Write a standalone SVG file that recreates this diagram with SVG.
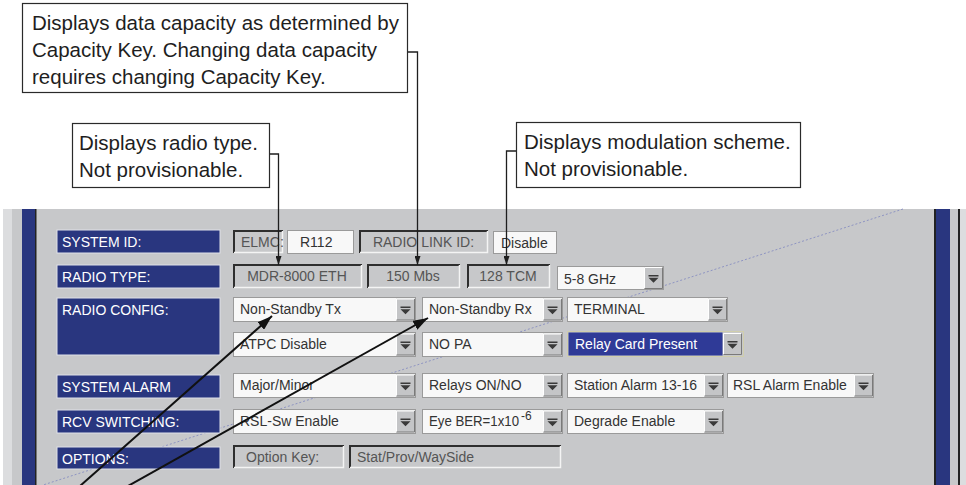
<svg xmlns="http://www.w3.org/2000/svg" xmlns:xlink="http://www.w3.org/1999/xlink" width="966" height="485" viewBox="0 0 966 485">
  <style>
    .note { fill: #fff; stroke: #2a2a2a; stroke-width: 1.2; }
    .nt { font-family: "Liberation Sans", Arial, sans-serif; font-size: 20.5px; fill: #1e1e1e; }
    .lbl { fill: #29367f; stroke: #dfe0e8; stroke-width: 1; }
    .lt { font-family: "Liberation Sans", Arial, sans-serif; font-size: 14px; fill: #ffffff; }
    .fld { fill: #f8f8f8; stroke: #9a9a9a; stroke-width: 1; }
    .wt { font-family: "Liberation Sans", Arial, sans-serif; font-size: 14px; fill: #333333; }
    .st { font-family: "Liberation Sans", Arial, sans-serif; font-size: 14px; fill: #555555; }
    .sunk { fill: #c7c8ca; }
    .sk-d { fill: none; stroke: #2e2e2e; stroke-width: 2; }
    .sk-l { fill: none; stroke: #f4f4f4; stroke-width: 1.5; }
    .lead { fill: none; stroke: #1e1e1e; stroke-width: 1.3; }
    .big { fill: none; stroke: #111; stroke-width: 2; }
  </style>
  <defs>
    <g id="btn">
      <rect x="0" y="0" width="19" height="22" fill="#c4c5c7"/>
      <path d="M0.5 21.5V0.5H18.5" fill="none" stroke="#ffffff"/>
      <path d="M0.5 21.5H18.5V0.5" fill="none" stroke="#7a7a7a"/>
      <path d="M4.5 8h10v1.6h-10z M4.5 10.8h10l-5 5z" fill="#3a3a3a"/>
    </g>
    <marker id="ah" viewBox="0 0 9 6" refX="9" refY="3" markerWidth="9" markerHeight="6" markerUnits="userSpaceOnUse" orient="auto">
      <path d="M0,0 L9,3 L0,6 z" fill="#1e1e1e"/>
    </marker>
    <marker id="ahb" viewBox="0 0 15 10" refX="15" refY="5" markerWidth="15" markerHeight="10" markerUnits="userSpaceOnUse" orient="auto">
      <path d="M0,0 L15,5 L0,10 z" fill="#111"/>
    </marker>
  </defs>

  <rect width="966" height="485" fill="#ffffff"/>

  <!-- window frame -->
  <g id="frame">
    <rect x="3" y="209" width="9" height="276" fill="#dcdddf"/>
    <rect x="12" y="209" width="947" height="276" fill="#c7c8ca"/>
    <rect x="22" y="209" width="13" height="276" fill="#29367f"/>
    <rect x="35" y="209" width="1.5" height="276" fill="#222"/>
    <rect x="934" y="209" width="2" height="276" fill="#222"/>
    <rect x="936" y="209" width="14" height="276" fill="#29367f"/>
    <rect x="958" y="209" width="2" height="276" fill="#222"/>
    <rect x="960" y="209" width="6" height="276" fill="#dcdddf"/>
    <line x1="903" y1="209" x2="43" y2="485" stroke="#8e94c2" stroke-width="1" stroke-dasharray="2 2"/>
  </g>

  <!-- row labels -->
  <g id="lbl-system-id"><rect class="lbl" x="57" y="230" width="163" height="23"/><text class="lt" x="62" y="247">SYSTEM ID:</text></g>
  <g id="lbl-radio-type"><rect class="lbl" x="57" y="265" width="163" height="23"/><text class="lt" x="62" y="282">RADIO TYPE:</text></g>
  <g id="lbl-radio-config"><rect class="lbl" x="57" y="298" width="163" height="57"/><text class="lt" x="62" y="315">RADIO CONFIG:</text></g>
  <g id="lbl-system-alarm"><rect class="lbl" x="57" y="375" width="163" height="23"/><text class="lt" x="62" y="392">SYSTEM ALARM</text></g>
  <g id="lbl-rcv-switching"><rect class="lbl" x="57" y="410" width="163" height="23"/><text class="lt" x="62" y="427">RCV SWITCHING:</text></g>
  <g id="lbl-options"><rect class="lbl" x="57" y="447" width="163" height="22"/><text class="lt" x="62" y="464">OPTIONS:</text></g>

  <!-- row 1 -->
  <g id="f-elmc">
    <rect class="sunk" x="233" y="230" width="50" height="23"/>
    <path class="sk-d" d="M234 253V231H283"/><path class="sk-l" d="M234 252.5H282.5V231"/>
    <text class="st" x="241" y="247">ELMC:</text>
  </g>
  <g id="f-r112"><rect class="fld" x="287.5" y="230.5" width="66" height="23"/><text class="wt" x="300" y="247">R112</text></g>
  <g id="f-link-id">
    <rect class="sunk" x="359" y="230" width="129" height="23"/>
    <path class="sk-d" d="M360 253V231H488"/><path class="sk-l" d="M360 252.5H487.5V231"/>
    <text class="st" x="423.5" y="247" text-anchor="middle">RADIO LINK ID:</text>
  </g>
  <g id="f-disable"><rect class="fld" x="493.5" y="231.5" width="63" height="22"/><text class="wt" x="501" y="248">Disable</text></g>

  <!-- row 2 -->
  <g id="f-radio">
    <rect class="sunk" x="233" y="264" width="129" height="24"/>
    <path class="sk-d" d="M234 288V265H362"/><path class="sk-l" d="M234 287.5H361.5V265"/>
    <text class="st" x="297" y="281" text-anchor="middle">MDR-8000 ETH</text>
  </g>
  <g id="f-rate">
    <rect class="sunk" x="367" y="264" width="93" height="24"/>
    <path class="sk-d" d="M368 288V265H460"/><path class="sk-l" d="M368 287.5H459.5V265"/>
    <text class="st" x="413" y="281" text-anchor="middle">150 Mbs</text>
  </g>
  <g id="f-mod">
    <rect class="sunk" x="467" y="264" width="83" height="24"/>
    <path class="sk-d" d="M468 288V265H550"/><path class="sk-l" d="M468 287.5H549.5V265"/>
    <text class="st" x="508" y="281" text-anchor="middle">128 TCM</text>
  </g>
  <g id="dd-band"><rect class="fld" x="557.5" y="266.5" width="106" height="23"/><text class="wt" x="564" y="284">5-8 GHz</text><use xlink:href="#btn" x="644" y="267"/></g>

  <!-- row 3 -->
  <g id="dd-tx"><rect class="fld" x="233.5" y="297.5" width="182" height="24"/><text class="wt" x="240" y="314">Non-Standby Tx</text><use xlink:href="#btn" x="396" y="298.5"/></g>
  <g id="dd-rx"><rect class="fld" x="422.5" y="297.5" width="140" height="24"/><text class="wt" x="429" y="314">Non-Standby Rx</text><use xlink:href="#btn" x="543" y="298.5"/></g>
  <g id="dd-terminal"><rect class="fld" x="567.5" y="297.5" width="160" height="24"/><text class="wt" x="574" y="314">TERMINAL</text><use xlink:href="#btn" x="708" y="298.5"/></g>

  <!-- row 4 -->
  <g id="dd-atpc"><rect class="fld" x="233.5" y="332.5" width="182" height="24"/><text class="wt" x="240" y="349">ATPC Disable</text><use xlink:href="#btn" x="396" y="333.5"/></g>
  <g id="dd-pa"><rect class="fld" x="422.5" y="332.5" width="140" height="24"/><text class="wt" x="429" y="349">NO PA</text><use xlink:href="#btn" x="543" y="333.5"/></g>
  <g id="dd-relay">
    <rect x="567.5" y="331.5" width="176" height="25" fill="none" stroke="#d8d48e" stroke-width="1" stroke-dasharray="1 1"/>
    <rect x="568.5" y="332.5" width="154" height="23" fill="#2f3a97"/>
    <text class="lt" x="575" y="349">Relay Card Present</text>
    <use xlink:href="#btn" x="723" y="333"/>
  </g>

  <!-- row 5 -->
  <g id="dd-major"><rect class="fld" x="233.5" y="373.5" width="182" height="24"/><text class="wt" x="240" y="390">Major/Minor</text><use xlink:href="#btn" x="396" y="374.5"/></g>
  <g id="dd-relays"><rect class="fld" x="422.5" y="373.5" width="140" height="24"/><text class="wt" x="429" y="390">Relays ON/NO</text><use xlink:href="#btn" x="543" y="374.5"/></g>
  <g id="dd-station"><rect class="fld" x="567.5" y="373.5" width="156" height="24"/><text class="wt" x="574" y="390">Station Alarm 13-16</text><use xlink:href="#btn" x="704" y="374.5"/></g>
  <g id="dd-rsl-alarm"><rect class="fld" x="727.5" y="373.5" width="146" height="24"/><text class="wt" x="733" y="390">RSL Alarm Enable</text><use xlink:href="#btn" x="854" y="374.5"/></g>

  <!-- row 6 -->
  <g id="dd-rsl-sw"><rect class="fld" x="233.5" y="409.5" width="182" height="24"/><text class="wt" x="240" y="426">RSL-Sw Enable</text><use xlink:href="#btn" x="396" y="410.5"/></g>
  <g id="dd-ber"><rect class="fld" x="422.5" y="409.5" width="140" height="24"/><text class="wt" x="429" y="426"><tspan textLength="90" lengthAdjust="spacingAndGlyphs">Eye BER=1x10</tspan><tspan dx="2" dy="-6" font-size="12">-6</tspan></text><use xlink:href="#btn" x="543" y="410.5"/></g>
  <g id="dd-degrade"><rect class="fld" x="567.5" y="409.5" width="156" height="24"/><text class="wt" x="574" y="426">Degrade Enable</text><use xlink:href="#btn" x="704" y="410.5"/></g>

  <!-- row 7 -->
  <g id="f-option-key">
    <rect class="sunk" x="233" y="445" width="111" height="23"/>
    <path class="sk-d" d="M234 468V446H344"/><path class="sk-l" d="M234 467.5H343.5V446"/>
    <text class="st" x="246" y="462">Option Key:</text>
  </g>
  <g id="f-options">
    <rect class="sunk" x="349" y="445" width="212" height="23"/>
    <path class="sk-d" d="M350 468V446H561"/><path class="sk-l" d="M350 467.5H560.5V446"/>
    <text class="st" x="357" y="462">Stat/Prov/WaySide</text>
  </g>

  <!-- callouts -->
  <g id="note-capacity">
    <rect class="note" x="22.5" y="3.5" width="385" height="89"/>
    <text class="nt" x="32" y="30">Displays data capacity as determined by</text>
    <text class="nt" x="32" y="57">Capacity Key. Changing data capacity</text>
    <text class="nt" x="32" y="84">requires changing Capacity Key.</text>
  </g>
  <g id="note-radio-type">
    <rect class="note" x="72.5" y="123.5" width="197" height="64"/>
    <text class="nt" x="79" y="150">Displays radio type.</text>
    <text class="nt" x="79" y="177">Not provisionable.</text>
  </g>
  <g id="note-modulation">
    <rect class="note" x="516.5" y="122.5" width="284" height="65"/>
    <text class="nt" x="524" y="149">Displays modulation scheme.</text>
    <text class="nt" x="524" y="176">Not provisionable.</text>
  </g>

  <!-- connectors -->
  <g id="connectors">
    <path class="lead" d="M408 52H417.5V265" marker-end="url(#ah)"/>
    <path class="lead" d="M270 154H278.5V265" marker-end="url(#ah)"/>
    <path class="lead" d="M516 151H506.5V265" marker-end="url(#ah)"/>
    <line class="big" x1="80" y1="486" x2="272" y2="316" marker-end="url(#ahb)"/>
    <line class="big" x1="128" y1="486" x2="428" y2="318" marker-end="url(#ahb)"/>
  </g>
</svg>
